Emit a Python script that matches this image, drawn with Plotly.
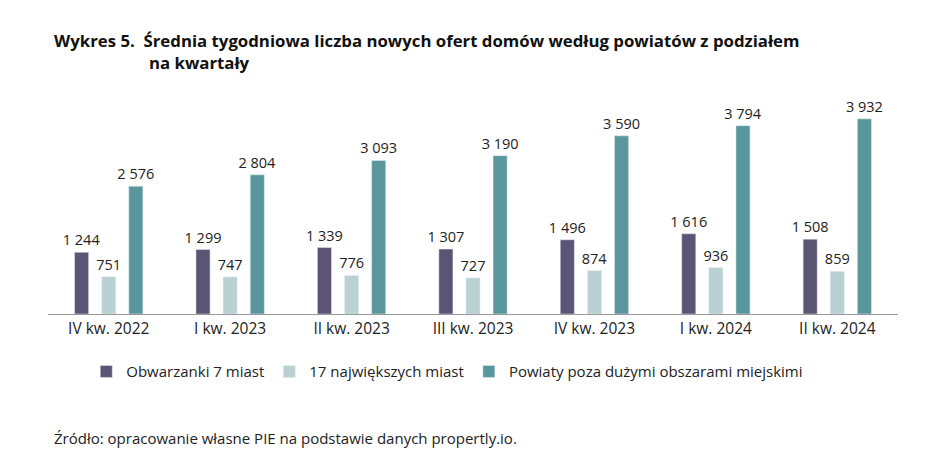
import plotly.graph_objects as go

quarters = ["IV kw. 2022", "I kw. 2023", "II kw. 2023", "III kw. 2023",
            "IV kw. 2023", "I kw. 2024", "II kw. 2024"]
obwarzanki = [1244, 1299, 1339, 1307, 1496, 1616, 1508]
najwieksze = [751, 747, 776, 727, 874, 936, 859]
powiaty = [2576, 2804, 3093, 3190, 3590, 3794, 3932]

series = [
    ("Obwarzanki 7 miast", obwarzanki, "#5c5474"),
    ("17 największych miast", najwieksze, "#b9d1d2"),
    ("Powiaty poza dużymi obszarami miejskimi", powiaty, "#5a979c"),
]


def fmt(v):
    return "{:,}".format(v).replace(",", " ")


fig = go.Figure()
for name, vals, color in series:
    fig.add_trace(go.Bar(
        x=quarters, y=vals, name=name, marker_color=color,
        text=[fmt(v) for v in vals], textposition="outside",
        constraintext="none",
        textfont=dict(size=14.5, color="#222"), cliponaxis=False,
    ))

fig.update_layout(
    width=948, height=467,
    paper_bgcolor="white", plot_bgcolor="white",
    font=dict(family="Open Sans", size=13, color="#222"),
    margin=dict(l=40, r=58, t=100, b=161),
    barmode="group", bargap=0.33, bargroupgap=0.48,
    showlegend=True,
    legend=dict(orientation="h", x=0.045, xanchor="left", y=-0.2, yanchor="top",
                font=dict(size=15), itemwidth=30),
    xaxis=dict(showline=True, linecolor="#999", ticks="", tickfont=dict(size=15.5)),
    yaxis=dict(visible=False, range=[0, 4150]),
    annotations=[
        dict(text="<b>Wykres 5.  Średnia tygodniowa liczba nowych ofert domów według powiatów z podziałem</b>",
             xref="paper", yref="paper", x=0.005, y=1.33, xanchor="left", yanchor="middle",
             showarrow=False, font=dict(size=16.8, color="#111")),
        dict(text="<b>na kwartały</b>",
             xref="paper", yref="paper", x=0.117, y=1.22, xanchor="left", yanchor="middle",
             showarrow=False, font=dict(size=16.8, color="#111")),
        dict(text="Źródło: opracowanie własne PIE na podstawie danych propertly.io.",
             xref="paper", yref="paper", x=0.005, y=-0.6, xanchor="left", yanchor="middle",
             showarrow=False, font=dict(size=15, color="#222")),
    ],
)

fig.write_html("out.html")
